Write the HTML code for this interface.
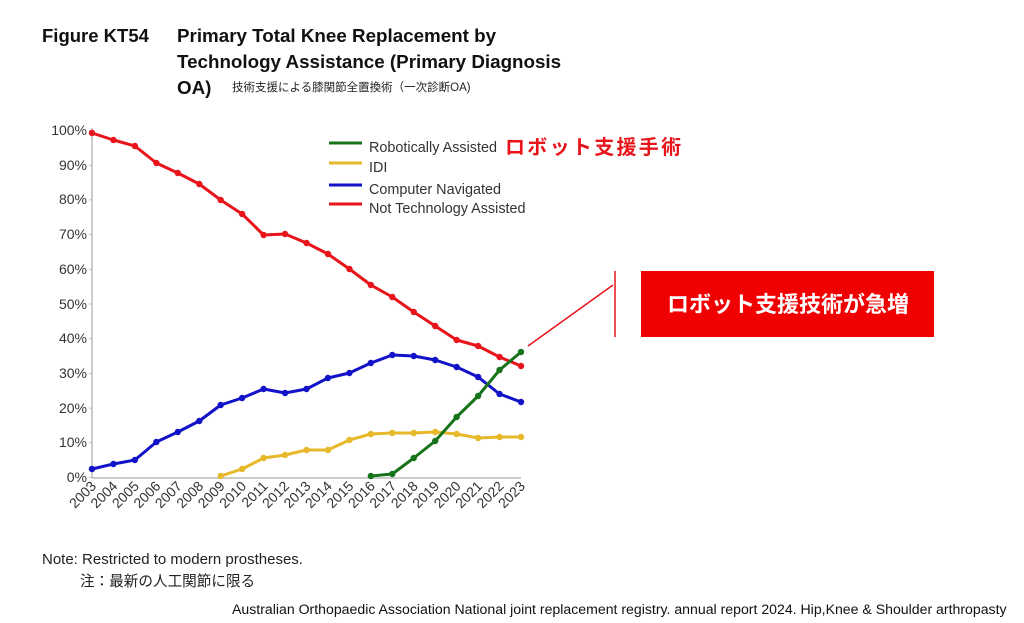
<!DOCTYPE html>
<html><head><meta charset="utf-8"><style>
html,body{margin:0;padding:0;background:#fff;}
svg{display:block;font-family:"Liberation Sans","Noto Sans CJK JP",sans-serif;}
</style></head><body>
<svg width="1024" height="623" viewBox="0 0 1024 623" xmlns="http://www.w3.org/2000/svg">
<defs>
<marker id="mr" markerWidth="8" markerHeight="8" refX="4" refY="4" markerUnits="userSpaceOnUse"><circle cx="4" cy="4" r="3.2" fill="#e8141b"/></marker>
<marker id="mb" markerWidth="8" markerHeight="8" refX="4" refY="4" markerUnits="userSpaceOnUse"><circle cx="4" cy="4" r="3.2" fill="#1212c8"/></marker>
<marker id="my" markerWidth="8" markerHeight="8" refX="4" refY="4" markerUnits="userSpaceOnUse"><circle cx="4" cy="4" r="3.2" fill="#e6b82a"/></marker>
<marker id="mg" markerWidth="8" markerHeight="8" refX="4" refY="4" markerUnits="userSpaceOnUse"><circle cx="4" cy="4" r="3.2" fill="#17731a"/></marker>
</defs>
<g font-weight="bold" font-size="18.8" fill="#111">
<text x="42" y="42" font-size="18.5">Figure KT54</text>
<text x="177" y="42">Primary Total Knee Replacement by</text>
<text x="177" y="68">Technology Assistance (Primary Diagnosis</text>
<text x="177" y="94">OA)</text>
</g>
<text x="232" y="91" font-size="11.5" fill="#222">技術支援による膝関節全置換術（一次診断OA)</text>
<g stroke="#bbb" stroke-width="1.5" fill="none">
<line x1="92" y1="128" x2="92" y2="478"/>
<line x1="92" y1="478" x2="521" y2="478"/>
</g>
<g stroke="#bbb" stroke-width="1">
<path d="M89 130.5h3M89 165.2h3M89 199.9h3M89 234.6h3M89 269.3h3M89 304h3M89 338.7h3M89 373.4h3M89 408.1h3M89 442.8h3M89 477.5h3"/>
</g>
<g font-size="14" fill="#333" text-anchor="end">
<text x="87" y="135">100%</text><text x="87" y="170">90%</text><text x="87" y="204">80%</text>
<text x="87" y="239">70%</text><text x="87" y="274">60%</text><text x="87" y="309">50%</text>
<text x="87" y="343">40%</text><text x="87" y="378">30%</text><text x="87" y="413">20%</text>
<text x="87" y="447">10%</text><text x="87" y="482">0%</text>
</g>
<g font-size="14" fill="#333" text-anchor="end">
<text transform="translate(97,487) rotate(-45)">2003</text>
<text transform="translate(118.45,487) rotate(-45)">2004</text>
<text transform="translate(139.9,487) rotate(-45)">2005</text>
<text transform="translate(161.35,487) rotate(-45)">2006</text>
<text transform="translate(182.8,487) rotate(-45)">2007</text>
<text transform="translate(204.25,487) rotate(-45)">2008</text>
<text transform="translate(225.7,487) rotate(-45)">2009</text>
<text transform="translate(247.15,487) rotate(-45)">2010</text>
<text transform="translate(268.6,487) rotate(-45)">2011</text>
<text transform="translate(290.05,487) rotate(-45)">2012</text>
<text transform="translate(311.5,487) rotate(-45)">2013</text>
<text transform="translate(332.95,487) rotate(-45)">2014</text>
<text transform="translate(354.4,487) rotate(-45)">2015</text>
<text transform="translate(375.85,487) rotate(-45)">2016</text>
<text transform="translate(397.3,487) rotate(-45)">2017</text>
<text transform="translate(418.75,487) rotate(-45)">2018</text>
<text transform="translate(440.2,487) rotate(-45)">2019</text>
<text transform="translate(461.65,487) rotate(-45)">2020</text>
<text transform="translate(483.1,487) rotate(-45)">2021</text>
<text transform="translate(504.55,487) rotate(-45)">2022</text>
<text transform="translate(526,487) rotate(-45)">2023</text>
</g>
<g fill="none" stroke-width="3" stroke-linejoin="round">
<polyline stroke="#e6b82a" marker-start="url(#my)" marker-mid="url(#my)" marker-end="url(#my)" points="220.7,476 242.15,469 263.6,458 285.05,455 306.5,450 327.95,450 349.4,440 370.85,434 392.3,433 413.75,433 435.2,432 456.65,434 478.1,438 499.55,437 521,437"/>
<polyline stroke="#1212c8" marker-start="url(#mb)" marker-mid="url(#mb)" marker-end="url(#mb)" points="92,469 113.45,464 134.9,460 156.35,442 177.8,432 199.25,421 220.7,405 242.15,398 263.6,389 285.05,393 306.5,389 327.95,378 349.4,373 370.85,363 392.3,355 413.75,356 435.2,360 456.65,367 478.1,377 499.55,394 521,402"/>
<polyline stroke="#e8141b" marker-start="url(#mr)" marker-mid="url(#mr)" marker-end="url(#mr)" points="92,133 113.45,140 134.9,146 156.35,163 177.8,173 199.25,184 220.7,200 242.15,214 263.6,235 285.05,234 306.5,243 327.95,254 349.4,269 370.85,285 392.3,297 413.75,312 435.2,326 456.65,340 478.1,346 499.55,357 521,366"/>
<polyline stroke="#17731a" marker-start="url(#mg)" marker-mid="url(#mg)" marker-end="url(#mg)" points="370.85,476 392.3,474 413.75,458 435.2,441 456.65,417 478.1,396 499.55,370 521,352"/>
</g>
<g stroke-width="3">
<line x1="329" y1="143" x2="362" y2="143" stroke="#17731a"/>
<line x1="329" y1="163" x2="362" y2="163" stroke="#e6b82a"/>
<line x1="329" y1="185" x2="362" y2="185" stroke="#1212c8"/>
<line x1="329" y1="204" x2="362" y2="204" stroke="#e8141b"/>
</g>
<g font-size="14.4" fill="#333">
<text x="369" y="152">Robotically Assisted</text>
<text x="369" y="172">IDI</text>
<text x="369" y="194">Computer Navigated</text>
<text x="369" y="213">Not Technology Assisted</text>
</g>
<text x="505" y="154" font-size="20" font-weight="bold" fill="#e8141b" letter-spacing="2.3">ロボット支援手術</text>
<line x1="528" y1="346" x2="613" y2="285" stroke="#e8141b" stroke-width="1.5"/>
<line x1="615" y1="271" x2="615" y2="337" stroke="#e8141b" stroke-width="1.5"/>
<rect x="641" y="271" width="293" height="66" fill="#f00000"/>
<text x="788" y="312" font-size="22" font-weight="bold" fill="#fff" text-anchor="middle">ロボット支援技術が急増</text>
<text x="42" y="564" font-size="15" fill="#222">Note: Restricted to modern prostheses.</text>
<text x="80" y="586" font-size="14.6" fill="#222">注：最新の人工関節に限る</text>
<text x="232" y="614" font-size="14.1" fill="#111">Australian Orthopaedic Association National joint replacement registry. annual report 2024. Hip,Knee &amp; Shoulder arthropasty</text>
</svg>
</body></html>
